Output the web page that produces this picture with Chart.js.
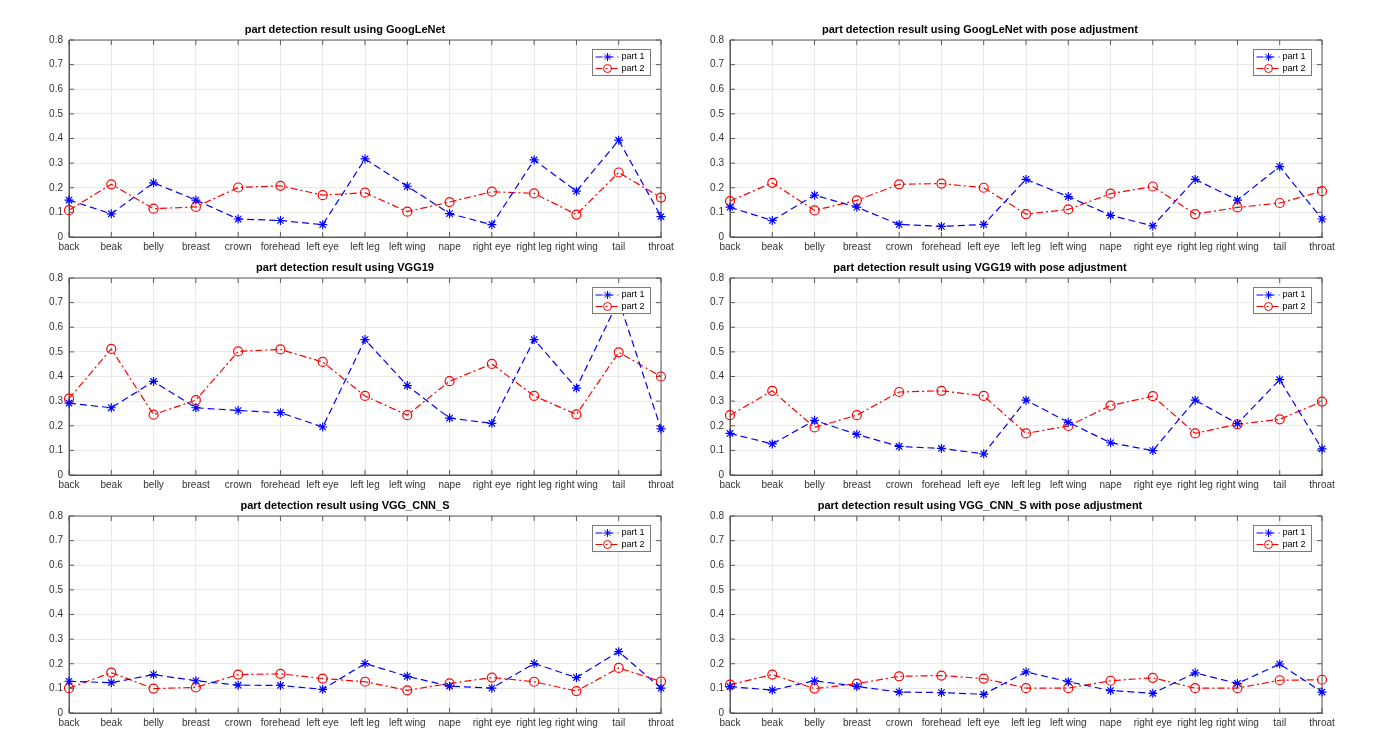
<!DOCTYPE html>
<html lang="en">

<head>
    <meta charset="UTF-8">
    <title>Part Detection Results</title>
    <style>
        body {
            margin: 0;
            width: 1391px;
            height: 751px;
            background: #fff;
            position: relative;
            overflow: hidden;
            font-family: "Liberation Sans", Arial, sans-serif;
        }

        .plot-box {
            position: absolute;
        }

        .plot-title {
            position: absolute;
            transform: translate(-50%, -50%);
            font-size: 11px;
            font-weight: 700;
            color: #000;
            white-space: nowrap;
        }
    </style>
    <script src="https://cdn.jsdelivr.net/npm/chart.js"></script>
</head>

<body>
    <script>
        const categories = ["back", "beak", "belly", "breast", "crown", "forehead", "left eye", "left leg",
            "left wing", "nape", "right eye", "right leg", "right wing", "tail", "throat"];
        const yTicks = [0, 0.1, 0.2, 0.3, 0.4, 0.5, 0.6, 0.7, 0.8];
        const seriesLabels = ["part 1", "part 2"];

        const googlenetPart1 = [0.150, 0.094, 0.220, 0.150, 0.073, 0.067, 0.050, 0.317, 0.206, 0.095, 0.050, 0.313, 0.186, 0.393, 0.083];
        const googlenetPart2 = [0.109, 0.214, 0.115, 0.122, 0.201, 0.208, 0.170, 0.180, 0.103, 0.142, 0.184, 0.177, 0.091, 0.262, 0.160];
        const googlenetPosePart1 = [0.121, 0.067, 0.170, 0.121, 0.051, 0.043, 0.051, 0.234, 0.164, 0.088, 0.045, 0.234, 0.150, 0.286, 0.073];
        const googlenetPosePart2 = [0.146, 0.220, 0.108, 0.149, 0.214, 0.217, 0.200, 0.093, 0.112, 0.176, 0.205, 0.093, 0.120, 0.138, 0.186];
        const vgg19Part1 = [0.292, 0.273, 0.380, 0.273, 0.262, 0.253, 0.195, 0.550, 0.363, 0.231, 0.210, 0.550, 0.353, 0.710, 0.187];
        const vgg19Part2 = [0.310, 0.512, 0.245, 0.304, 0.502, 0.510, 0.459, 0.321, 0.243, 0.381, 0.451, 0.321, 0.246, 0.498, 0.400];
        const vgg19PosePart1 = [0.169, 0.126, 0.222, 0.165, 0.116, 0.108, 0.086, 0.304, 0.214, 0.131, 0.099, 0.304, 0.209, 0.387, 0.106];
        const vgg19PosePart2 = [0.243, 0.342, 0.193, 0.243, 0.337, 0.342, 0.321, 0.169, 0.199, 0.282, 0.320, 0.169, 0.206, 0.226, 0.298];
        const vggCnnPart1 = [0.129, 0.123, 0.156, 0.131, 0.113, 0.112, 0.096, 0.201, 0.149, 0.109, 0.101, 0.201, 0.144, 0.249, 0.101];
        const vggCnnPart2 = [0.101, 0.164, 0.099, 0.104, 0.156, 0.159, 0.140, 0.127, 0.092, 0.120, 0.144, 0.127, 0.089, 0.183, 0.128];
        const vggCnnPosePart1 = [0.107, 0.093, 0.131, 0.108, 0.085, 0.083, 0.076, 0.167, 0.127, 0.091, 0.080, 0.163, 0.120, 0.199, 0.085];
        const vggCnnPosePart2 = [0.115, 0.156, 0.099, 0.119, 0.149, 0.152, 0.140, 0.101, 0.101, 0.131, 0.143, 0.101, 0.101, 0.133, 0.135];

        const panels = [
            { title: "part detection result using GoogLeNet", part1: googlenetPart1, part2: googlenetPart2 },
            { title: "part detection result using GoogLeNet with pose adjustment", part1: googlenetPosePart1, part2: googlenetPosePart2 },
            { title: "part detection result using VGG19", part1: vgg19Part1, part2: vgg19Part2 },
            { title: "part detection result using VGG19 with pose adjustment", part1: vgg19PosePart1, part2: vgg19PosePart2 },
            { title: "part detection result using VGG_CNN_S", part1: vggCnnPart1, part2: vggCnnPart2 },
            { title: "part detection result using VGG_CNN_S with pose adjustment", part1: vggCnnPosePart1, part2: vggCnnPosePart2 },
        ];

        // plot-area geometry of the 3x2 grid
        const colLeft = [69, 730];
        const colTitleX = [345, 980];
        const rowTop = [38, 276, 514];
        const plotW = 592;
        const plotH = 199;
        const yAxisW = 45;
        const padTop = 10;
        const padRight = 25;
        const xAxisH = 25;

        const axisColor = "#5a5a5a";
        const gridColor = "#e9e9e9";
        const textColor = "#333333";
        const fontFamily = "'Liberation Sans', Arial, sans-serif";

        // MATLAB style box with inward ticks
        const axesBox = {
            id: "axesBox",
            beforeDatasetsDraw(chart) {
                const { ctx, chartArea, scales } = chart;
                const { left, right, top, bottom } = chartArea;
                ctx.save();
                ctx.strokeStyle = axisColor;
                ctx.lineWidth = 1;
                ctx.beginPath();
                ctx.rect(left, top, right - left, bottom - top);
                scales.y.ticks.forEach((t, i) => {
                    const y = scales.y.getPixelForTick(i);
                    ctx.moveTo(left, y); ctx.lineTo(left + 5, y);
                    ctx.moveTo(right, y); ctx.lineTo(right - 5, y);
                });
                scales.x.ticks.forEach((t, i) => {
                    const x = scales.x.getPixelForTick(i);
                    ctx.moveTo(x, bottom); ctx.lineTo(x, bottom - 5);
                    ctx.moveTo(x, top); ctx.lineTo(x, top + 5);
                });
                ctx.stroke();
                ctx.restore();
            }
        };

        // legend box in the top right corner of the axes
        const boxLegend = {
            id: "boxLegend",
            afterDatasetsDraw(chart) {
                const { ctx, chartArea } = chart;
                const w = 58;
                const h = 26;
                const x0 = Math.round(chartArea.right - 11 - w) + 0.5;
                const y0 = Math.round(chartArea.top + 9) + 0.5;
                ctx.save();
                ctx.fillStyle = "#fff";
                ctx.fillRect(x0, y0, w, h);
                ctx.strokeStyle = "#7a7a7a";
                ctx.lineWidth = 1;
                ctx.strokeRect(x0, y0, w, h);
                chart.data.datasets.forEach((ds, i) => {
                    const y = y0 + 7.5 + i * 11.5;
                    ctx.strokeStyle = ds.borderColor;
                    ctx.lineWidth = ds.borderWidth;
                    ctx.setLineDash(ds.borderDash);
                    ctx.beginPath();
                    ctx.moveTo(x0 + 3, y);
                    ctx.lineTo(x0 + 26, y);
                    ctx.stroke();
                    ctx.setLineDash([]);
                    ctx.fillStyle = "rgba(0,0,0,0)";
                    ctx.lineWidth = 1;
                    Chart.helpers.drawPoint(ctx, { pointStyle: ds.pointStyle, radius: 4, borderWidth: 1, rotation: 0 }, x0 + 15, y);
                    ctx.fillStyle = "#000";
                    ctx.font = "9px " + fontFamily;
                    ctx.textBaseline = "middle";
                    ctx.fillText(ds.label, x0 + 29, y);
                });
                ctx.restore();
            }
        };

        panels.forEach((panel, idx) => {
            const col = idx % 2;
            const row = Math.floor(idx / 2);
            const plotLeft = colLeft[col];
            const plotTop = rowTop[row];

            const box = document.createElement("div");
            box.className = "plot-box";
            box.style.left = (plotLeft - yAxisW) + "px";
            box.style.top = (plotTop - padTop) + "px";
            const canvas = document.createElement("canvas");
            canvas.width = yAxisW + plotW + padRight;
            canvas.height = padTop + plotH + xAxisH;
            canvas.style.width = canvas.width + "px";
            canvas.style.height = canvas.height + "px";
            box.appendChild(canvas);
            document.body.appendChild(box);

            const title = document.createElement("div");
            title.className = "plot-title";
            title.textContent = panel.title;
            title.style.left = colTitleX[col] + "px";
            title.style.top = (plotTop - 9.5) + "px";
            document.body.appendChild(title);

            new Chart(canvas.getContext("2d"), {
                type: "line",
                data: {
                    labels: categories,
                    datasets: [{
                        label: seriesLabels[0],
                        data: panel.part1,
                        borderColor: "#0000ff",
                        borderWidth: 1.2,
                        borderDash: [7, 4],
                        pointStyle: "star",
                        pointRadius: 4.5,
                        pointBorderWidth: 1.2,
                        pointBorderColor: "#0000ff",
                        pointBackgroundColor: "rgba(0,0,0,0)",
                        fill: false,
                        tension: 0,
                        clip: false,
                    }, {
                        label: seriesLabels[1],
                        data: panel.part2,
                        borderColor: "#ff0000",
                        borderWidth: 1.2,
                        borderDash: [7, 3, 2, 3],
                        pointStyle: "circle",
                        pointRadius: 4.5,
                        pointBorderWidth: 1.2,
                        pointBorderColor: "#ff0000",
                        pointBackgroundColor: "rgba(0,0,0,0)",
                        fill: false,
                        tension: 0,
                        clip: false,
                    }]
                },
                options: {
                    responsive: false,
                    animation: false,
                    devicePixelRatio: 1,
                    layout: {
                        autoPadding: false,
                        padding: { left: 0, top: padTop, right: padRight, bottom: 0 }
                    },
                    plugins: {
                        legend: { display: false },
                        title: { display: false },
                        tooltip: { enabled: false }
                    },
                    scales: {
                        x: {
                            type: "category",
                            offset: false,
                            afterFit: (scale) => { scale.height = xAxisH; },
                            grid: { color: gridColor, drawTicks: false },
                            border: { color: axisColor },
                            ticks: {
                                autoSkip: false,
                                maxRotation: 0,
                                padding: 4,
                                color: textColor,
                                font: { family: fontFamily, size: 10 }
                            }
                        },
                        y: {
                            min: yTicks[0],
                            max: yTicks[yTicks.length - 1],
                            afterFit: (scale) => { scale.width = yAxisW; },
                            afterBuildTicks: (scale) => { scale.ticks = yTicks.map(v => ({ value: v })); },
                            grid: { color: gridColor, drawTicks: false },
                            border: { color: axisColor },
                            ticks: {
                                padding: 6,
                                color: textColor,
                                font: { family: fontFamily, size: 10 },
                                callback: (v) => (v === 0 ? "0" : v.toFixed(1))
                            }
                        }
                    }
                },
                plugins: [axesBox, boxLegend]
            });
        });
    </script>
</body>

</html>
